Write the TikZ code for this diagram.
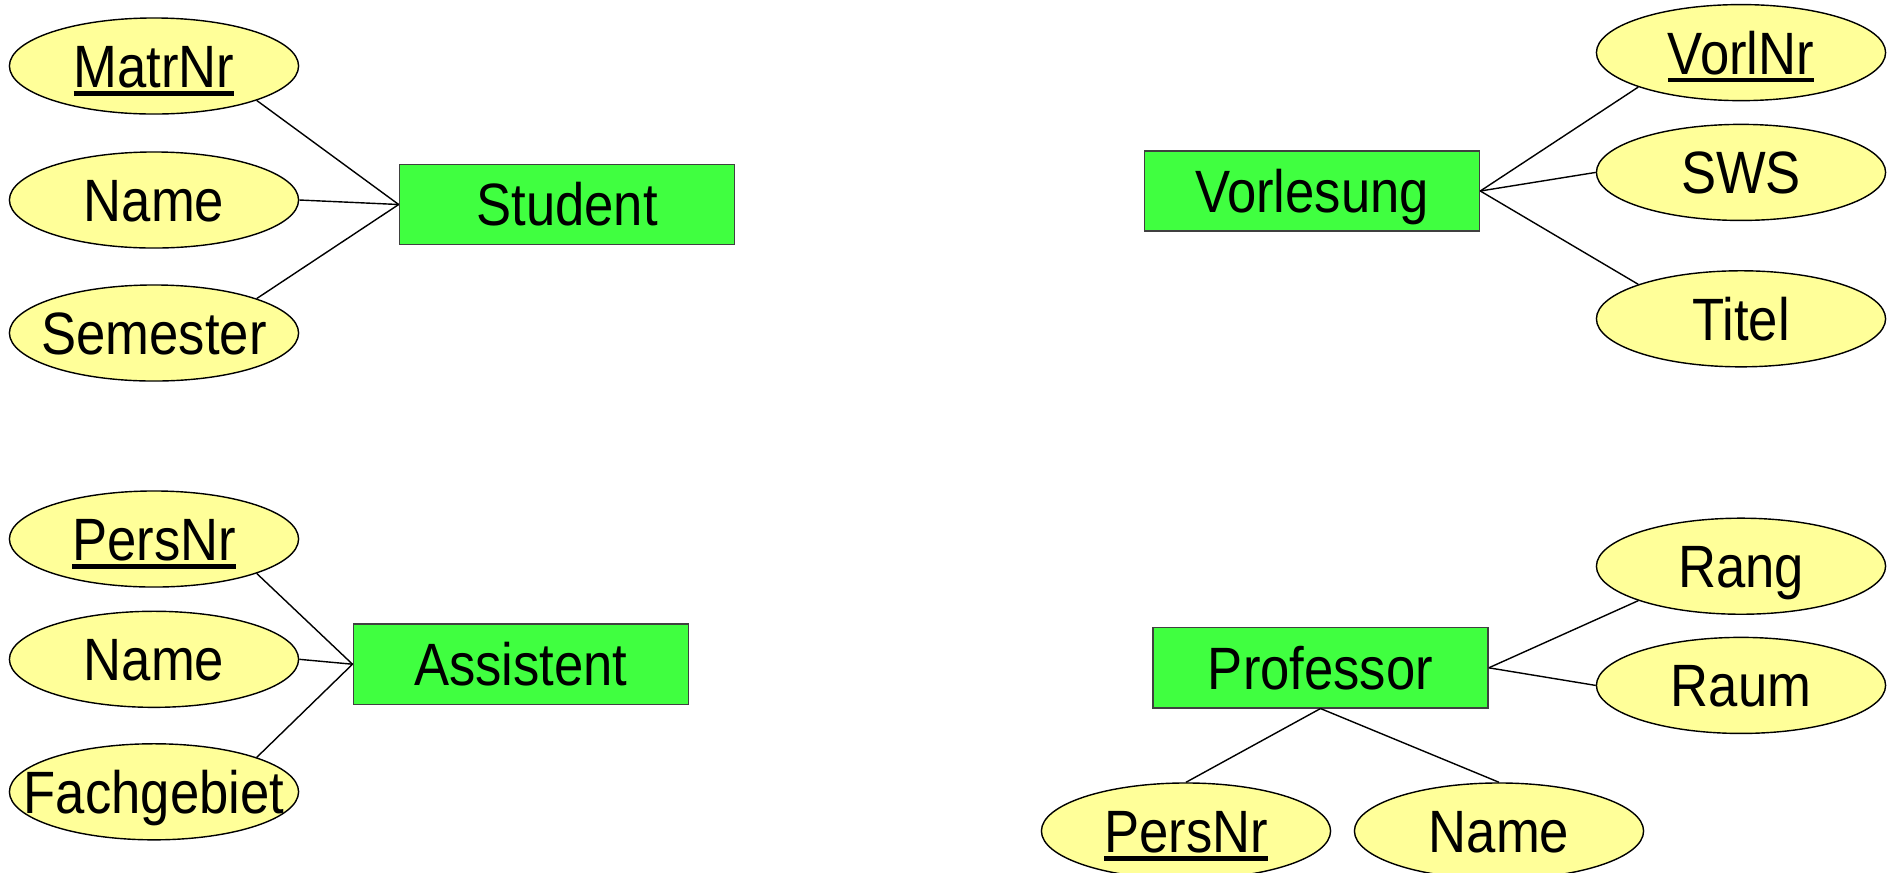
\documentclass[tikz,border=0pt]{standalone}
\usepackage{fontspec}
\setmainfont{Liberation Sans}[FakeStretch=0.88]
\usepackage{tikz}
\usetikzlibrary{shapes.geometric}

\definecolor{entgreen}{RGB}{64,255,64}
\definecolor{attryellow}{RGB}{255,255,153}
\newcommand{\pkey}[1]{\setbox0\hbox{#1}\rlap{\rule[-0.14em]{\wd0}{0.075em}}\box0}
\newcommand{\atxt}[1]{\makebox[0pt]{#1}}

\begin{document}
\begin{tikzpicture}[x=0.01cm, y=-0.01cm,
    every node/.style={font=\fontsize{17}{20}\selectfont, inner sep=0pt, text height=12.2pt, text depth=0pt},
    entity/.style={draw=black!75, fill=entgreen, minimum width=3.35cm, minimum height=0.8cm},
    attr/.style={ellipse, draw, fill=attryellow, minimum width=2.89cm, minimum height=0.96cm}]
    \useasboundingbox (0,0) rectangle (1897,872);

    % Student
    \node[entity] (student) at (567, 204.5) {Student};
    \node[attr] (matrnr) at (154, 66) {\atxt{\pkey{MatrNr}}};
    \node[attr] (sname) at (154, 200) {\atxt{Name}};
    \node[attr] (semester) at (154, 333) {\atxt{Semester}};
    \foreach \a in {matrnr.south east, sname.east, semester.north east} {
        \draw[thin] (\a) -- (student.west);
    }

    % Vorlesung
    \node[entity] (vorlesung) at (1312, 191) {Vorlesung};
    \node[attr] (vorlnr) at (1741, 52.6) {\atxt{\pkey{VorlNr}}};
    \node[attr] (sws) at (1741, 172.4) {\atxt{SWS}};
    \node[attr] (titel) at (1741, 318.8) {\atxt{Titel}};
    \foreach \a in {vorlnr.south west, sws.west, titel.north west} {
        \draw[thin] (vorlesung.east) -- (\a);
    }

    % Assistent
    \node[entity] (assistent) at (520.8, 664.2) {Assistent};
    \node[attr] (apersnr) at (154, 539) {\atxt{\pkey{PersNr}}};
    \node[attr] (aname) at (154, 659.3) {\atxt{Name}};
    \node[attr] (fachgebiet) at (154, 791.8) {\atxt{Fachgebiet}};
    \foreach \a in {apersnr.south east, aname.east, fachgebiet.north east} {
        \draw[thin] (\a) -- (assistent.west);
    }

    % Professor
    \node[entity] (professor) at (1320.5, 667.8) {Professor};
    \node[attr] (rang) at (1741, 566.2) {\atxt{Rang}};
    \node[attr] (raum) at (1741, 685.4) {\atxt{Raum}};
    \node[attr] (ppersnr) at (1186, 831) {\atxt{\pkey{PersNr}}};
    \node[attr] (pname) at (1499, 831) {\atxt{Name}};
    \draw[thin] (professor.east) -- (rang.south west);
    \draw[thin] (professor.east) -- (raum.west);
    \draw[thin] (professor.south) -- (ppersnr.north);
    \draw[thin] (professor.south) -- (pname.north);
\end{tikzpicture}
\end{document}
